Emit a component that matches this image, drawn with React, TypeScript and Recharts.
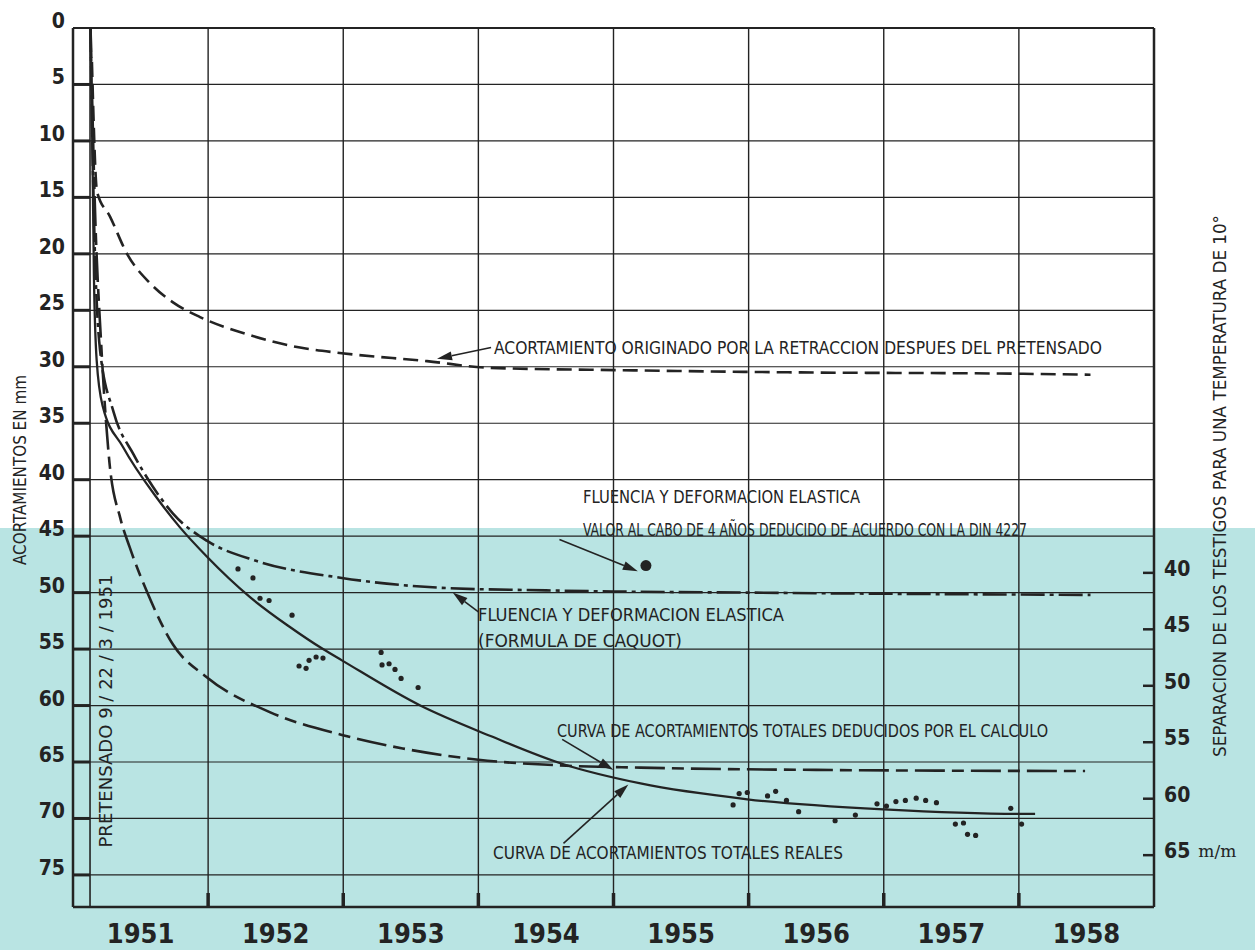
import {
  ComposedChart,
  Line,
  Scatter,
  XAxis,
  YAxis,
  CartesianGrid,
  ReferenceLine,
} from "recharts";

// time axis: 0 = start of 1951, one unit per year
const yearBounds = [1, 2, 3, 4, 5, 6, 7];
const yearCenters = [0.5, 1.5, 2.5, 3.5, 4.5, 5.5, 6.5, 7.5];
const yearLabels = ["1951", "1952", "1953", "1954", "1955", "1956", "1957", "1958"];
const pretensadoT = 0.126;

const leftTicks = [0, 5, 10, 15, 20, 25, 30, 35, 40, 45, 50, 55, 60, 65, 70, 75];
const rightTicks = [40, 45, 50, 55, 60, 65];

// retraccion despues del pretensado (dashed)
const retraccionT = [0.14, 0.178, 0.274, 0.4, 0.57, 0.74, 0.94, 1.31, 1.68, 1.99, 2.62, 3.09, 4.05, 5.38, 6.86, 7.53];
const retraccionMm = [3, 14.5, 16.7, 20, 22.6, 24.3, 25.6, 27.2, 28.3, 28.8, 29.5, 30.1, 30.3, 30.5, 30.6, 30.7];

// fluencia y deformacion elastica, formula de Caquot (dash-dot)
const caquotT = [0.13, 0.15, 0.2, 0.3, 0.45, 0.59, 0.74, 0.99, 1.36, 1.99, 2.77, 3.5, 4.0, 5.0, 6.0, 7.53];
const caquotMm = [0, 14, 28.5, 34.0, 37.8, 40.6, 43.0, 45.4, 47.2, 48.7, 49.6, 49.8, 49.9, 50.0, 50.1, 50.2];

// acortamientos totales deducidos por el calculo (long dash)
const calculoT = [0.13, 0.16, 0.21, 0.27, 0.35, 0.42, 0.55, 0.74, 0.99, 1.46, 1.99, 2.44, 3.0, 3.6, 4.2, 5.5, 7.49];
const calculoMm = [0, 15, 28.3, 38.5, 43.4, 46.0, 50.0, 54.6, 57.5, 60.6, 62.6, 63.8, 64.8, 65.3, 65.5, 65.7, 65.8];

// acortamientos totales reales (solid)
const realesT = [0.13, 0.145, 0.155, 0.175, 0.22, 0.37, 0.62, 0.79, 0.99, 1.31, 1.6, 1.85, 1.99, 2.57, 3.09, 3.63, 4.2, 4.99, 6.0, 7.0, 7.12];
const realesMm = [0, 12, 22, 29.4, 33.5, 37.1, 41.6, 44.2, 46.8, 50.4, 53.0, 55.0, 56.0, 60.0, 62.7, 65.2, 66.9, 68.3, 69.2, 69.6, 69.6];

// lecturas de los testigos
const medidasT = [
  1.221, 1.332, 1.384, 1.451, 1.621, 1.673, 1.725, 1.747, 1.799, 1.85,
  2.28, 2.287, 2.339, 2.383, 2.428, 2.554,
  4.885, 4.93, 4.99, 5.14, 5.2, 5.28, 5.37, 5.64, 5.79, 5.95, 6.02, 6.09,
  6.16, 6.24, 6.31, 6.39, 6.53, 6.59, 6.62, 6.68, 6.94, 7.02,
];
const medidasMm = [
  47.9, 48.7, 50.5, 50.7, 52.0, 56.5, 56.7, 56.0, 55.7, 55.8,
  55.3, 56.4, 56.3, 56.8, 57.6, 58.4,
  68.8, 67.8, 67.7, 68.0, 67.6, 68.4, 69.4, 70.2, 69.7, 68.7, 68.9, 68.5,
  68.4, 68.2, 68.4, 68.6, 70.5, 70.4, 71.4, 71.5, 69.1, 70.5,
];

// valor al cabo de 4 anos segun DIN 4227
const dinT = [4.24];
const dinMm = [47.6];

// arrows: [tailT, tailMm, tipT, tipMm]
const arrows = [
  [3.094, 28.3, 2.694, 29.3],
  [3.6, 45.3, 4.18, 48.1],
  [3.0, 51.7, 2.81, 50.0],
  [3.62, 63.0, 4.0, 65.7],
  [3.63, 72.2, 4.11, 67.0],
];

const toRows = (ts: number[], vs: number[]) => ts.map((t, i) => ({ t, v: vs[i] }));
const retraccion = toRows(retraccionT, retraccionMm);
const caquot = toRows(caquotT, caquotMm);
const calculo = toRows(calculoT, calculoMm);
const reales = toRows(realesT, realesMm);
const medidas = toRows(medidasT, medidasMm);
const din = toRows(dinT, dinMm);

const INK = "#232323";
const FONT = "'DejaVu Sans Condensed', 'Liberation Sans Narrow', 'DejaVu Sans', sans-serif";
const LEFT_MAX = 77.84;
const RIGHT_OFFSET = 8.25;

const LeftTick = (props: any) => {
  const { x, y, payload } = props;
  return (
    <text x={x} y={y - 7} textAnchor="end" dominantBaseline="central" fontSize={21} fontWeight="bold" fontFamily={FONT} fill={INK}>
      {payload.value}
    </text>
  );
};

const RightTick = (props: any) => {
  const { x, y, payload } = props;
  return (
    <g>
      <line x1={x - 19} x2={x - 8} y1={y} y2={y} stroke={INK} strokeWidth={2.5} />
      <text x={x + 2} y={y - 4} dominantBaseline="central" fontSize={21} fontWeight="bold" fontFamily={FONT} fill={INK}>
        {payload.value}
        {payload.value === 65 && (
          <tspan dx={8} fontSize={17} fontWeight="normal" fontFamily="'DejaVu Serif', serif">m/m</tspan>
        )}
      </text>
    </g>
  );
};

const YearTick = (props: any) => {
  const { x, y, payload } = props;
  const i = yearCenters.indexOf(payload.value);
  return (
    <text x={x} y={y + 36} textAnchor="middle" fontSize={27} fontWeight="bold" fontFamily={FONT} fill={INK}>
      {yearLabels[i]}
    </text>
  );
};

const Arrow = (p: any) => {
  const { x1, y1, x2, y2 } = p;
  const a = Math.atan2(y2 - y1, x2 - x1);
  const L = 15;
  const W = 4.5;
  const bx = x2 - L * Math.cos(a);
  const by = y2 - L * Math.sin(a);
  const pts = `${x2},${y2} ${bx + W * Math.sin(a)},${by - W * Math.cos(a)} ${bx - W * Math.sin(a)},${by + W * Math.cos(a)}`;
  return (
    <g>
      <line x1={x1} y1={y1} x2={bx} y2={by} stroke={INK} strokeWidth={1.6} />
      <polygon points={pts} fill={INK} />
    </g>
  );
};

const Dot = (r: number) => (p: any) => <circle cx={p.cx} cy={p.cy} r={r} fill={INK} />;

const Note = ({ x, y, w, children }: any) => (
  <text x={x} y={y} textLength={w} lengthAdjust="spacingAndGlyphs" dominantBaseline="central" fontSize={17} fontFamily={FONT} fill={INK}>
    {children}
  </text>
);

export default function App() {
  return (
    <div style={{ position: "absolute", left: 0, top: 0, width: 1255, height: 950, background: "#fff", overflow: "hidden" }}>
      <div style={{ position: "absolute", left: 0, top: 528, width: 1255, height: 422, background: "#b9e4e3" }} />
      <div style={{ position: "absolute", left: 0, top: 0 }}>
        <ComposedChart width={1255} height={950} margin={{ top: 28, left: 13, right: 41, bottom: 3 }}>
          <CartesianGrid vertical={false} stroke={INK} strokeWidth={1.2} />
          <XAxis
            dataKey="t"
            type="number"
            domain={[0, 8]}
            ticks={yearCenters}
            interval={0}
            height={40}
            tickSize={0}
            tickMargin={0}
            tickLine={false}
            axisLine={{ stroke: INK, strokeWidth: 2.5 }}
            tick={<YearTick />}
            allowDataOverflow
          />
          <YAxis
            type="number"
            reversed
            domain={[0, LEFT_MAX]}
            ticks={leftTicks}
            interval={0}
            width={60}
            tickSize={0}
            tickMargin={8}
            tickLine={false}
            axisLine={{ stroke: INK, strokeWidth: 2.5 }}
            tick={<LeftTick />}
            allowDataOverflow
          />
          <YAxis
            yAxisId="r"
            orientation="right"
            type="number"
            reversed
            domain={[-RIGHT_OFFSET, LEFT_MAX - RIGHT_OFFSET]}
            ticks={rightTicks}
            interval={0}
            width={60}
            tickSize={0}
            tickMargin={8}
            tickLine={false}
            axisLine={{ stroke: INK, strokeWidth: 2.5 }}
            tick={<RightTick />}
            allowDataOverflow
          />

          <ReferenceLine y={0} stroke={INK} strokeWidth={2.2} />
          <ReferenceLine x={pretensadoT} stroke={INK} strokeWidth={1.6} />
          {yearBounds.map((b) => (
            <ReferenceLine key={`v${b}`} x={b} stroke={INK} strokeWidth={1.4} />
          ))}
          {yearBounds.map((b) => (
            <ReferenceLine key={`vb${b}`} segment={[{ x: b, y: 76.6 }, { x: b, y: LEFT_MAX }]} stroke={INK} strokeWidth={3.5} />
          ))}
          {leftTicks.slice(1).map((v) => (
            <ReferenceLine key={`h${v}`} segment={[{ x: 0, y: v }, { x: pretensadoT, y: v }]} stroke={INK} strokeWidth={3} />
          ))}

          <Line data={retraccion} dataKey="v" type="monotone" dot={false} stroke={INK} strokeWidth={2.6} strokeDasharray="15 7" isAnimationActive={false} />
          <Line data={caquot} dataKey="v" type="monotone" dot={false} stroke={INK} strokeWidth={2.6} strokeDasharray="24 5 4 5" isAnimationActive={false} />
          <Line data={calculo} dataKey="v" type="monotone" dot={false} stroke={INK} strokeWidth={2.6} strokeDasharray="30 7 12 7" isAnimationActive={false} />
          <Line data={reales} dataKey="v" type="monotone" dot={false} stroke={INK} strokeWidth={2.3} isAnimationActive={false} />
          <Scatter data={medidas} dataKey="v" shape={Dot(2.6)} isAnimationActive={false} />
          <Scatter data={din} dataKey="v" shape={Dot(5.5)} isAnimationActive={false} />

          {arrows.map((a, i) => (
            <ReferenceLine key={`a${i}`} segment={[{ x: a[0], y: a[1] }, { x: a[2], y: a[3] }]} shape={Arrow} />
          ))}
        </ComposedChart>
      </div>
      <svg width={1255} height={950} style={{ position: "absolute", left: 0, top: 0, pointerEvents: "none" }}>
        <Note x={494} y={348} w={608}>ACORTAMIENTO ORIGINADO POR LA RETRACCION DESPUES DEL PRETENSADO</Note>
        <Note x={583} y={497} w={277}>FLUENCIA Y DEFORMACION ELASTICA</Note>
        <Note x={583} y={530} w={444}>VALOR AL CABO DE 4 AÑOS DEDUCIDO DE ACUERDO CON LA DIN 4227</Note>
        <Note x={478} y={615} w={306}>FLUENCIA Y DEFORMACION ELASTICA</Note>
        <Note x={478} y={641} w={204}>(FORMULA DE CAQUOT)</Note>
        <Note x={557} y={731} w={491}>CURVA DE ACORTAMIENTOS TOTALES DEDUCIDOS POR EL CALCULO</Note>
        <Note x={493} y={853} w={350}>CURVA DE ACORTAMIENTOS TOTALES REALES</Note>
        <text transform="translate(106 711) rotate(-90)" textAnchor="middle" dominantBaseline="central" fontSize={17} fontFamily={FONT} fill={INK} textLength={273} lengthAdjust="spacingAndGlyphs">
          PRETENSADO  9 / 22 / 3 / 1951
        </text>
        <text transform="translate(20 470) rotate(-90)" textAnchor="middle" dominantBaseline="central" fontSize={17} fontFamily={FONT} fill={INK} textLength={190} lengthAdjust="spacingAndGlyphs">
          ACORTAMIENTOS EN mm
        </text>
        <text transform="translate(1220 486) rotate(-90)" textAnchor="middle" dominantBaseline="central" fontSize={17} fontFamily={FONT} fill={INK} textLength={542} lengthAdjust="spacingAndGlyphs">
          SEPARACION DE LOS TESTIGOS PARA UNA TEMPERATURA DE 10°
        </text>
      </svg>
    </div>
  );
}
